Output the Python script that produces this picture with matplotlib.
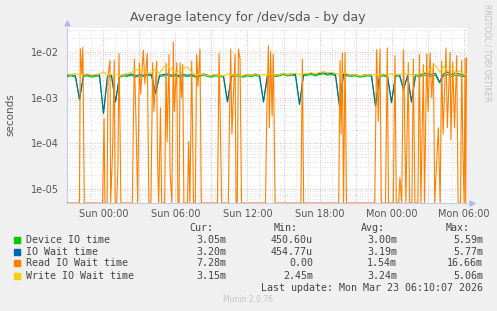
import numpy as np
import matplotlib

matplotlib.use("Agg")
import matplotlib.pyplot as plt
from matplotlib.patches import Rectangle
from matplotlib.ticker import MultipleLocator, LogLocator, FuncFormatter, NullFormatter

# hours relative to Sun 00:00, sampled every 20 minutes
band_hours = np.arange(101) / 3.0 - 3.0

# values in milliseconds
device_ms = [
    2.9, 3.0, 2.8, 0.9, 2.9, 3.0, 2.8, 2.9, 3.0, 0.45,
    2.8, 2.9, 0.8, 2.8, 3.0, 2.9, 3.1, 2.8, 3.0, 2.9,
    3.1, 3.0, 1.2, 2.9, 3.0, 3.1, 2.9, 3.0, 2.8, 3.0,
    2.9, 3.0, 2.8, 2.9, 3.1, 2.9, 2.8, 3.0, 2.9, 2.8,
    0.8, 2.9, 3.0, 2.9, 2.8, 3.0, 2.9, 3.1, 2.9, 0.8,
    3.0, 3.1, 2.9, 3.0, 3.2, 3.0, 3.1, 3.0, 0.7, 3.0,
    3.1, 3.2, 3.0, 3.2, 3.3, 3.1, 3.2, 3.0, 0.65, 3.1,
    3.0, 2.9, 3.0, 2.8, 2.9, 3.0, 2.9, 0.65, 2.9, 3.0,
    2.8, 0.77, 2.9, 3.0, 1.49, 2.9, 0.8, 3.0, 2.9, 3.1,
    3.0, 2.9, 3.1, 2.1, 3.0, 3.2, 2.9, 3.1, 3.0, 2.9,
    3.05,
]
iowait_ms = [
    3.1, 3.2, 3.0, 0.92, 3.1, 3.2, 3.0, 3.1, 3.2, 0.46,
    3.0, 3.1, 0.82, 3.0, 3.2, 3.1, 3.3, 3.0, 3.2, 3.1,
    3.3, 3.2, 1.25, 3.1, 3.2, 3.3, 3.1, 3.2, 3.0, 3.2,
    3.1, 3.2, 3.0, 3.1, 3.3, 3.1, 3.0, 3.2, 3.1, 3.0,
    0.82, 3.1, 3.2, 3.1, 3.0, 3.2, 3.1, 3.3, 3.1, 0.82,
    3.2, 3.3, 3.1, 3.2, 3.4, 3.2, 3.3, 3.2, 0.72, 3.2,
    3.3, 3.4, 3.2, 3.4, 3.5, 3.3, 3.4, 3.2, 0.67, 3.3,
    3.2, 3.1, 3.2, 3.0, 3.1, 3.2, 3.1, 0.67, 3.1, 3.2,
    3.0, 0.8, 3.1, 3.2, 1.52, 3.1, 0.82, 3.2, 3.1, 3.4,
    3.3, 3.2, 3.4, 2.2, 3.3, 3.6, 3.2, 3.4, 3.3, 3.1,
    3.2,
]
write_ms = [
    3.3, 3.2, 3.4, 3.1, 3.2, 3.3, 3.1, 3.2, 3.3, 3.7,
    3.1, 3.2, 3.3, 3.0, 3.2, 3.4, 3.6, 3.9, 4.4, 3.8,
    3.3, 3.6, 4.1, 3.4, 4.6, 5.0, 4.2, 3.5, 3.8, 4.4,
    4.6, 3.6, 3.1, 3.3, 3.2, 3.0, 3.1, 3.2, 3.1, 3.0,
    3.3, 3.1, 3.2, 3.0, 3.1, 3.2, 3.1, 3.3, 3.1, 3.2,
    3.2, 3.3, 3.1, 3.2, 3.4, 3.2, 3.3, 3.4, 3.2, 3.3,
    3.4, 3.5, 3.3, 3.6, 3.7, 3.5, 3.6, 3.4, 3.2, 3.5,
    3.3, 3.1, 3.2, 3.0, 3.1, 3.2, 3.1, 3.2, 3.1, 3.3,
    3.1, 3.3, 3.2, 3.2, 3.4, 3.3, 3.2, 3.1, 3.3, 3.5,
    3.7, 4.4, 5.06, 3.6, 4.8, 3.9, 4.5, 3.4, 3.8, 3.3,
    3.15,
]

# read IO wait is mostly zero with short spikes (hours, ms)
read_hours = [
    -3.04, -2.0, -1.93, -1.8, -1.72, -1.6,
    -0.08, 0.05, 0.12, 0.3, 0.38, 0.54, 0.6, 0.75, 0.9, 0.97, 1.1, 1.2, 1.29, 1.38, 1.45,
    2.4, 2.57, 2.7, 2.85, 2.99, 3.1, 3.32, 3.45, 3.65, 3.78, 3.95, 4.1, 4.2, 4.43, 4.5, 4.6, 4.75, 4.85,
    5.1, 5.21, 5.3, 5.46, 5.55, 5.7, 5.82, 5.9, 6.1, 6.2,
    6.3, 6.38, 6.5, 6.6, 6.7, 7.0, 7.1, 7.2, 7.35, 7.5, 7.65, 7.76, 7.88, 8.04, 8.15,
    9.5, 9.63, 9.72, 9.85, 10.4, 10.5, 10.6, 10.7, 10.96, 11.05, 11.15, 11.24, 11.38, 11.5,
    13.5, 13.6, 13.74, 13.82, 13.93, 14.05, 14.15, 14.3,
    16.45, 16.57, 16.68,
    19.6, 19.71, 19.8, 19.9, 20.0, 20.13, 20.25,
    22.6, 22.76, 22.9, 23.04, 23.15, 23.5, 23.65, 23.75, 24.15, 24.29, 24.4, 24.6, 24.7, 24.85,
    24.99, 25.08, 25.2, 25.4, 25.5, 25.7, 25.82, 25.95, 26.2, 26.32, 26.45, 26.65, 26.75, 26.93,
    27.05, 27.21, 27.35, 27.49, 27.6, 27.9, 28.05, 28.18, 28.3, 28.54, 28.65, 28.88, 28.95, 29.1,
    29.25, 29.43, 29.55, 29.75, 29.85, 29.95, 30.05, 30.13, 30.18, 30.25,
]
read_ms = [
    0, 0, 11.8, 3.2, 12.6, 0,
    0, 0.35, 0, 0, 3.0, 6.5, 0, 0.06, 6.5, 0, 0, 0.03, 9.2, 0.2, 0,
    0, 7.0, 0.4, 0, 5.8, 1.2, 10.9, 2.0, 9.2, 0, 0, 5.8, 0.5, 6.3, 0.05, 0, 0.6, 0,
    0, 5.6, 0.11, 8.75, 0.023, 0, 16.5, 0.5, 5.8, 0,
    0, 5.8, 1.0, 5.3, 0, 0, 0.11, 0, 6.3, 0, 0, 8.75, 1.77, 11.6, 0,
    0, 9.2, 0.5, 0, 0, 0.36, 11.6, 0.16, 8.75, 0, 0, 11.6, 7.0, 0,
    0, 0.36, 13.7, 0.22, 10.3, 0.4, 9.0, 0,
    0, 7.0, 0,
    0, 6.5, 0.16, 9.5, 0, 9.8, 0,
    0, 11.2, 0.3, 11.6, 0, 0, 12.2, 0, 0, 8.3, 0, 0, 0.018, 0,
    11.2, 0.6, 0, 5.8, 0, 0, 7.0, 0, 0, 8.75, 0, 5.3, 0, 9.0,
    0.5, 9.5, 1.0, 5.6, 0, 0.22, 0, 6.3, 0.16, 12.2, 0.22, 9.8, 0.12, 6.0,
    0.22, 8.3, 0, 0, 6.5, 0.058, 0, 7.4, 0, 7.28,
]

tick_hours = [0, 6, 12, 18, 24, 30]
tick_labels = ["Sun 00:00", "Sun 06:00", "Sun 12:00", "Sun 18:00", "Mon 00:00", "Mon 06:00"]

legend_names = ["Device IO time", "IO Wait time", "Read IO Wait time", "Write IO Wait time"]
legend_colours = ["#00CC00", "#0066B3", "#FF8000", "#FFCC00"]
cur_vals = ["3.05m", "3.20m", "7.28m", "3.15m"]
min_vals = ["450.60u", "454.77u", "0.00", "2.45m"]
avg_vals = ["3.00m", "3.19m", "1.54m", "3.24m"]
max_vals = ["5.59m", "5.77m", "16.66m", "5.06m"]

W, H = 497, 311
BG = "#F0F0F0"
YMIN, YMAX = 5e-6, 3.33e-2


def fx(px):
    return px / W


def fy(py):
    return 1 - py / H


fig = plt.figure(figsize=(W / 100, H / 100), dpi=100, facecolor=BG)
ax = fig.add_axes([fx(67), fy(203), fx(467) - fx(67), fy(28) - fy(203)])
ax.set_facecolor("white")

lw = 0.8
ax.plot(band_hours, np.array(device_ms) / 1000, color=legend_colours[0], lw=lw, zorder=3)
ax.plot(band_hours, np.array(iowait_ms) / 1000, color=legend_colours[1], lw=lw, zorder=4)
read_s = np.array(read_ms) / 1000
ax.plot(read_hours, np.where(read_s > 0, read_s, YMIN), color=legend_colours[2], lw=lw, zorder=5)
ax.plot(band_hours, np.array(write_ms) / 1000, color=legend_colours[3], lw=lw, zorder=6)

ax.set_yscale("log")
ax.set_ylim(YMIN, YMAX)
ax.set_xlim(-3.04, 30.29)

ax.xaxis.set_major_locator(MultipleLocator(3))
ax.xaxis.set_minor_locator(MultipleLocator(1))
ax.xaxis.set_major_formatter(FuncFormatter(
    lambda v, pos: tick_labels[tick_hours.index(int(round(v)))] if int(round(v)) in tick_hours else ""))
ax.yaxis.set_major_locator(LogLocator(base=10))
ax.yaxis.set_minor_locator(LogLocator(base=10, subs=np.arange(2, 10)))
ax.yaxis.set_major_formatter(FuncFormatter(lambda v, pos: f"{v:.0e}"))
ax.yaxis.set_minor_formatter(NullFormatter())

dots = (0, (1, 2))
ax.grid(which="minor", color="#d4d4d4", lw=0.6, ls=dots, zorder=1)
ax.grid(which="major", color="#e3a0a0", lw=0.6, ls=dots, zorder=2)
ax.tick_params(which="both", length=0, labelsize=7, colors="#555555")
ax.tick_params(axis="y", pad=6)
ax.tick_params(axis="x", pad=4)

for side in ("top", "right"):
    ax.spines[side].set_visible(False)
for side in ("left", "bottom"):
    ax.spines[side].set_color("#c8c8f4")
    ax.spines[side].set_linewidth(0.8)
ax.plot([0], [1.03], marker="^", ms=3.5, color="#b4b4f4", transform=ax.transAxes, clip_on=False)
ax.plot([1.012], [0], marker=">", ms=3.5, color="#b4b4f4", transform=ax.transAxes, clip_on=False)

fig.text(fx(10), fy(115), "seconds", rotation=90, ha="center", va="center",
         fontsize=7.5, color="#555555")

fig.text(fx(248), fy(18), "Average latency for /dev/sda - by day", ha="center", va="center",
         fontsize=9, color="#555555")
fig.text(fx(487), fy(53), "RRDTOOL / TOBI OETIKER", rotation=270, ha="center", va="center",
         fontsize=5.5, color="#c0c0c0")

mono = dict(family="DejaVu Sans Mono", fontsize=7.2, color="#444444", va="center")
for x, head in zip([213, 298, 385, 470], ["Cur:", "Min:", "Avg:", "Max:"]):
    fig.text(fx(x), fy(228), head, ha="right", **mono)
rows_y = [240, 251.7, 263.3, 275.7]
for i, y in enumerate(rows_y):
    fig.patches.append(Rectangle((fx(14), fy(y + 3)), fx(6), fy(0) - fy(6),
                                 transform=fig.transFigure, color=legend_colours[i]))
    fig.text(fx(26), fy(y), legend_names[i], ha="left", **mono)
    fig.text(fx(226), fy(y), cur_vals[i], ha="right", **mono)
    fig.text(fx(313), fy(y), min_vals[i], ha="right", **mono)
    fig.text(fx(397), fy(y), avg_vals[i], ha="right", **mono)
    fig.text(fx(483), fy(y), max_vals[i], ha="right", **mono)
fig.text(fx(483), fy(287.7), "Last update: Mon Mar 23 06:10:07 2026", ha="right", **mono)
fig.text(fx(248), fy(300), "Munin 2.0.76", ha="center", va="center", fontsize=5.5, color="#c4c4c4")

fig.savefig("out.png", dpi=100, facecolor=BG)
